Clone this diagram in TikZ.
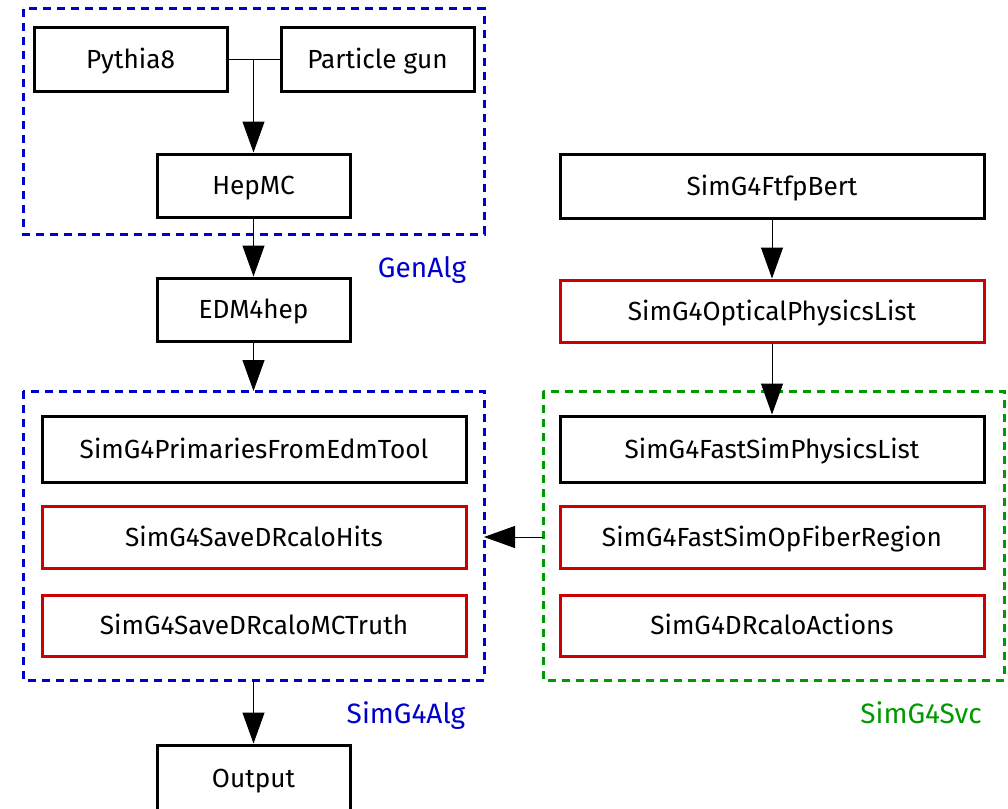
\documentclass[tikz,border=0pt]{standalone}
\usepackage{fontspec}
\setmainfont{Fira Sans}
\usetikzlibrary{arrows.meta}
\definecolor{grpblue}{RGB}{0,0,204}
\definecolor{grpgreen}{RGB}{0,153,0}
\definecolor{boxred}{RGB}{204,0,0}
\begin{document}
\begin{tikzpicture}[x=1pt,y=-1pt,
  every node/.style={font=\fontsize{26.2}{30}\selectfont,text height=18pt,text depth=0pt},
  blk/.style={draw=black,line width=3pt,rectangle,inner sep=0pt},
  redblk/.style={blk,draw=boxred},
  grp/.style={line width=3pt,dash pattern=on 8pt off 6pt},
  conn/.style={line width=1pt,-{Triangle[length=31pt,width=22pt]}},
  plain/.style={line width=1pt},
  grplabel/.style={font=\fontsize{28}{32}\selectfont,text height=19.3pt,inner sep=0pt}]
\useasboundingbox (0,0) rectangle (1008,808);
\clip (0,0) rectangle (1008,808);

% generator stage
\draw[grp,grpblue] (23,9) rectangle (484,234);
\node[blk,minimum width=193pt,minimum height=63pt] (py) at (130.5,59.5) {Pythia8};
\node[blk,minimum width=193pt,minimum height=63pt] (gun) at (377.5,59.5) {Particle gun};
\node[blk,minimum width=193pt,minimum height=63pt] (hep) at (253.5,185.5) {HepMC};
\node[grplabel,text=grpblue] (genlbl) at (422,268) {GenAlg};

\node[blk,minimum width=193pt,minimum height=63pt] (edm) at (253.5,309.5) {EDM4hep};

% simulation algorithm
\draw[grp,grpblue] (23,391) rectangle (484,680);
\coordinate (algtop) at (253.5,391);
\coordinate (algbot) at (253.5,680);
\coordinate (algright) at (484,537);
\node[blk,minimum width=424pt,minimum height=66pt] (prim) at (254,449) {SimG4PrimariesFromEdmTool};
\node[redblk,minimum width=424pt,minimum height=62pt] (hits) at (254,537) {SimG4SaveDRcaloHits};
\node[redblk,minimum width=424pt,minimum height=61pt] (truth) at (254,625.5) {SimG4SaveDRcaloMCTruth};
\node[grplabel,text=grpblue] (alglbl) at (406,714) {SimG4Alg};

\node[blk,minimum width=193pt,minimum height=66pt] (out) at (253.5,778) {Output};

% physics lists and simulation service
\node[blk,minimum width=424pt,minimum height=64pt] (ftfp) at (772,186) {SimG4FtfpBert};
\node[redblk,minimum width=424pt,minimum height=62pt] (opt) at (772,311) {SimG4OpticalPhysicsList};
\draw[grp,grpgreen] (543,391) rectangle (1004,680);
\coordinate (svcleft) at (543,537);
\node[blk,minimum width=424pt,minimum height=66pt] (fast) at (772,449) {SimG4FastSimPhysicsList};
\node[redblk,minimum width=424pt,minimum height=62pt] (fiber) at (772,537) {SimG4FastSimOpFiberRegion};
\node[redblk,minimum width=424pt,minimum height=61pt] (act) at (772,625.5) {SimG4DRcaloActions};
\node[grplabel,text=grpgreen] (svclbl) at (921,714) {SimG4Svc};

% connectors
\coordinate (join) at (253.5,59.5);
\draw[plain] (py.east) -- (gun.west);
\draw[conn] (join) -- (hep.north);
\draw[conn] (hep.south) -- (edm.north);
\draw[conn] (edm.south) -- (algtop);
\draw[conn] (algbot) -- (out.north);
\draw[conn] (ftfp.south) -- (opt.north);
\draw[conn] (opt.south) -- (fast.north);
\draw[conn] (svcleft) -- (algright);
\end{tikzpicture}
\end{document}
